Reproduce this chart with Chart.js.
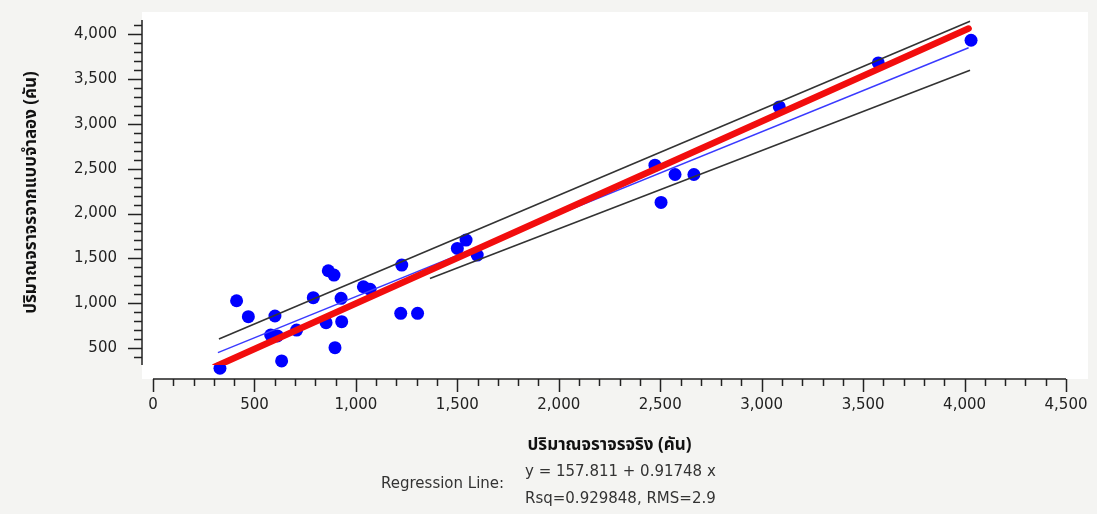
<!DOCTYPE html>
<html><head><meta charset="utf-8">
<script src="https://cdn.jsdelivr.net/npm/chart.js@4"></script>
<style>html,body{margin:0;padding:0;background:#f4f4f2;overflow:hidden}#wrap{width:1097px;height:514px;position:relative}</style>
</head><body><div id="wrap"><canvas id="c" width="1097" height="514"></canvas></div>
<script>
// ---- data ----
const actualVolume = [330, 412, 470, 580, 601, 613, 634, 708, 790, 853, 864, 892, 897, 927, 930, 1037, 1070, 1221, 1226, 1304, 1500, 1543, 1598, 2474, 2504, 2573, 2666, 3087, 3575, 4032];
const modelVolume  = [274, 1027, 849, 645, 857, 634, 355, 700, 1061, 782, 1362, 1314, 503, 1054, 793, 1183, 1154, 887, 1425, 887, 1611, 1704, 1537, 2540, 2124, 2436, 2436, 3190, 3681, 3934];
const xTickValues = [0, 500, 1000, 1500, 2000, 2500, 3000, 3500, 4000, 4500];
const yTickValues = [500, 1000, 1500, 2000, 2500, 3000, 3500, 4000];
const xRange = [0, 4500];
const yRange = [310, 4160];
const perfectFitX = [305, 4020];
const perfectFitY = [290, 4065];
const regressionX = [320, 4020];
const regressionY = [448, 3850];
const upperBandX = [325, 4027];
const upperBandY = [600, 4145];
const lowerBandX = [1365, 4027];
const lowerBandY = [1274, 3599];
const xAxisTitle = 'ปริมาณจราจรจริง (คัน)';
const yAxisTitle = 'ปริมาณจราจรจากแบบจำลอง (คัน)';
const regressionLabel = 'Regression Line:';
const regressionText = ['y = 157.811 + 0.91748 x', 'Rsq=0.929848, RMS=2.9'];

const pts = (xs, ys) => xs.map((x, i) => ({x, y: ys[i]}));
const FONT = '"DejaVu Sans", Tahoma, sans-serif';
const THAI = 'Tahoma, "Noto Sans Thai", "DejaVu Sans", sans-serif';
const zeroPad = s => { s.paddingTop = 0; s.paddingBottom = 0; s.paddingLeft = 0; s.paddingRight = 0; };

const decor = {
  id: 'decor',
  beforeDraw(chart) {
    const {ctx, chartArea: a} = chart;
    ctx.save();
    ctx.fillStyle = '#f4f4f2';
    ctx.fillRect(0, 0, chart.width, chart.height);
    ctx.fillStyle = '#ffffff';
    ctx.fillRect(a.left - 11, a.top - 8, a.right - a.left + 33, a.bottom - a.top + 22);
    ctx.restore();
  },
  afterDraw(chart) {
    const {ctx, chartArea: a, scales} = chart;
    const xs = scales.x, ys = scales.y;
    ctx.save();
    ctx.strokeStyle = '#222';
    ctx.lineWidth = 1.5;
    // y axis
    const ax = a.left - 11;
    ctx.beginPath();
    ctx.moveTo(ax, ys.getPixelForValue(yRange[1]));
    ctx.lineTo(ax, ys.getPixelForValue(yRange[0]));
    for (let v = Math.ceil(yRange[0] / 100) * 100; v <= yRange[1]; v += 100) {
      const p = Math.round(ys.getPixelForValue(v)) + 0.5;
      const major = yTickValues.includes(v);
      ctx.moveTo(ax, p); ctx.lineTo(ax - (major ? 14 : 8), p);
    }
    ctx.stroke();
    // x axis
    const ay = a.bottom + 14;
    ctx.beginPath();
    ctx.moveTo(xs.getPixelForValue(xRange[0]), ay);
    ctx.lineTo(xs.getPixelForValue(xRange[1]), ay);
    for (let v = xRange[0]; v <= xRange[1]; v += 100) {
      const p = Math.round(xs.getPixelForValue(v)) + 0.5;
      const major = xTickValues.includes(v);
      ctx.moveTo(p, ay); ctx.lineTo(p, ay + (major ? 13 : 7));
    }
    ctx.stroke();
    // regression text
    ctx.fillStyle = '#333';
    ctx.font = '15px ' + FONT;
    ctx.textBaseline = 'middle';
    ctx.textAlign = 'left';
    ctx.fillText(regressionLabel, 381, 484);
    ctx.fillText(regressionText[0], 525, 472);
    ctx.fillText(regressionText[1], 525, 499);
    ctx.restore();
  }
};

new Chart(document.getElementById('c'), {
  type: 'scatter',
  data: {
    datasets: [
      {type: 'line', data: pts(perfectFitX, perfectFitY), borderColor: '#f20d0d', borderWidth: 6.5, borderCapStyle: 'round', pointRadius: 0, fill: false},
      {type: 'line', data: pts(regressionX, regressionY), borderColor: '#3a3aff', borderWidth: 1.5, pointRadius: 0, fill: false},
      {type: 'line', data: pts(upperBandX, upperBandY), borderColor: '#333', borderWidth: 1.6, pointRadius: 0, fill: false},
      {type: 'line', data: pts(lowerBandX, lowerBandY), borderColor: '#333', borderWidth: 1.6, pointRadius: 0, fill: false},
      {data: pts(actualVolume, modelVolume), backgroundColor: '#0000ff', borderWidth: 0, pointRadius: 6.5, clip: false}
    ]
  },
  options: {
    responsive: false,
    devicePixelRatio: 1,
    animation: false,
    events: [],
    layout: {padding: {left: 0, top: 20, right: 31, bottom: 0}},
    plugins: {legend: {display: false}, tooltip: {enabled: false}},
    scales: {
      x: {
        type: 'linear', min: xRange[0], max: xRange[1],
        afterBuildTicks: s => { s.ticks = xTickValues.map(v => ({value: v})); },
        afterFit: s => { s.height = 149; zeroPad(s); },
        grid: {display: false, drawTicks: false},
        border: {display: false},
        ticks: {padding: 31, color: '#222', font: {family: FONT, size: 15}, maxRotation: 0, autoSkip: false,
                callback: v => v.toLocaleString('en-US')},
        title: {display: true, text: xAxisTitle, color: '#111', font: {family: THAI, size: 17, weight: 'bold'}, padding: {top: 0, bottom: 57}}
      },
      y: {
        type: 'linear', min: yRange[0], max: yRange[1],
        afterBuildTicks: s => { s.ticks = yTickValues.map(v => ({value: v})); },
        afterFit: s => { s.width = 153; zeroPad(s); },
        grid: {display: false, drawTicks: false},
        border: {display: false},
        ticks: {padding: 36, color: '#222', font: {family: FONT, size: 15}, autoSkip: false,
                callback: v => v.toLocaleString('en-US')},
        title: {display: true, text: yAxisTitle, color: '#111', font: {family: THAI, size: 17, weight: 'bold'}, padding: {top: 22, bottom: 0}}
      }
    }
  },
  plugins: [decor]
});
</script></body></html>
